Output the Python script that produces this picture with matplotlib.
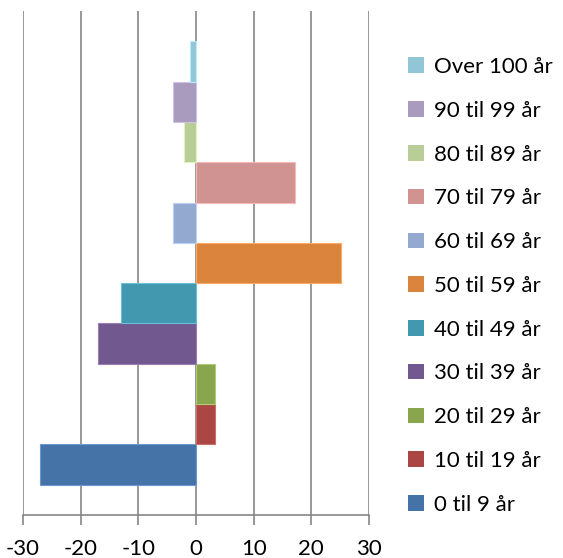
import matplotlib.pyplot as plt
import matplotlib.colors as mcolors
import numpy as np

# Aldersgrupper (nederst til øverst) og endring
grupper = ['0 til 9 år', '10 til 19 år', '20 til 29 år', '30 til 39 år', '40 til 49 år',
           '50 til 59 år', '60 til 69 år', '70 til 79 år', '80 til 89 år', '90 til 99 år',
           'Over 100 år']
verdier = [-27, 3.3, 3.3, -17, -13, 25.2, -4, 17.2, -2, -4, -1]
farger = ['#4572A7', '#AA4643', '#89A54E', '#71588F', '#4198AF', '#DB843D',
          '#93A9CF', '#D19392', '#B9CD96', '#A99BBD', '#92C5D6']
xticks = [-30, -20, -10, 0, 10, 20, 30]

plt.rcParams['font.family'] = ['Lato', 'DejaVu Sans']

fig = plt.figure(figsize=(5.63, 5.58), dpi=100)
ax = fig.add_axes([23 / 563, 43 / 558, 346 / 563, 504 / 558])

pos = np.arange(len(grupper))
for i, (navn, v, c) in enumerate(zip(grupper, verdier, farger)):
    kant = mcolors.to_rgb(c)
    kant = [min(1, k + 0.15) for k in kant]
    ax.barh(pos[i], v, height=1.0, color=c, edgecolor=kant, linewidth=0.8,
            label=navn, zorder=3)

ax.set_xlim(-30, 30)
ax.set_ylim(-1.25, 11.25)
ax.set_xticks(xticks)
ax.set_xticklabels([str(t) for t in xticks], fontsize=16)
ax.set_yticks([])
ax.grid(axis='x', color='#868686', linewidth=1.2, zorder=0)
for s in ['top', 'right', 'left']:
    ax.spines[s].set_visible(False)
ax.spines['bottom'].set_color('#868686')
ax.spines['bottom'].set_linewidth(1.2)
ax.tick_params(axis='x', length=7, width=1.2, color='#868686', pad=10)

h, l = ax.get_legend_handles_labels()
leg = fig.legend(h[::-1], l[::-1], loc='upper left', bbox_to_anchor=(408 / 563, 1 - 57 / 558),
                 frameon=False, fontsize=16, handlelength=0.7, handleheight=0.7,
                 handletextpad=0.45, labelspacing=1.07, borderpad=0, borderaxespad=0)
for p in leg.get_patches():
    p.set_edgecolor('none')

fig.savefig('out.png', dpi=100)
